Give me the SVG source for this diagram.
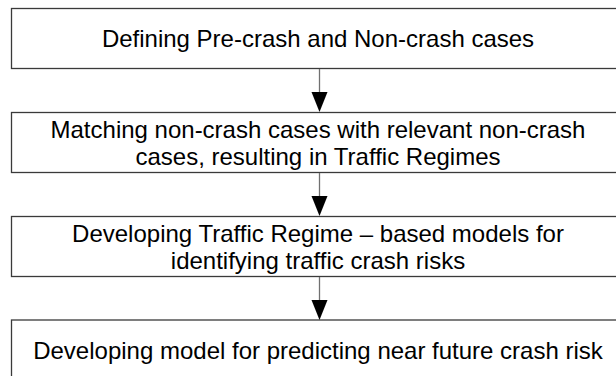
<svg xmlns="http://www.w3.org/2000/svg" width="616" height="376" viewBox="0 0 616 376">
  <defs>
    <style>
      .box { fill: #ffffff; stroke: #3a3a3a; stroke-width: 1.3; }
      .lbl { font-family: "Liberation Sans", Arial, sans-serif; font-size: 24px; fill: #000000; text-anchor: middle; }
      .conn { stroke: #707070; stroke-width: 1.3; fill: none; }
      .head { fill: #000000; stroke: none; }
    </style>
  </defs>
  <rect width="616" height="376" fill="#ffffff"/>
  <g id="node1">
    <rect class="box" x="11.5" y="8.5" width="620" height="60"/>
    <text class="lbl" x="318" y="46.5">Defining Pre-crash and Non-crash cases</text>
  </g>
  <g id="node2">
    <rect class="box" x="11.5" y="112.5" width="620" height="60"/>
    <text class="lbl" x="318" y="137.5">Matching non-crash cases with relevant non-crash</text>
    <text class="lbl" x="318" y="164.5">cases, resulting in Traffic Regimes</text>
  </g>
  <g id="node3">
    <rect class="box" x="11.5" y="216.5" width="620" height="60"/>
    <text class="lbl" x="318" y="241.5">Developing Traffic Regime – based models for</text>
    <text class="lbl" x="318" y="268.5">identifying traffic crash risks</text>
  </g>
  <g id="node4">
    <rect class="box" x="11.5" y="320" width="620" height="62"/>
    <text class="lbl" x="318" y="358.5">Developing model for predicting near future crash risk</text>
  </g>
  <g id="connectors">
    <line class="conn" x1="319.5" y1="69" x2="319.5" y2="94"/>
    <polygon class="head" points="311.5,92 327.5,92 319.5,112"/>
    <line class="conn" x1="319.5" y1="173" x2="319.5" y2="198"/>
    <polygon class="head" points="311.5,196 327.5,196 319.5,216"/>
    <line class="conn" x1="319.5" y1="277" x2="319.5" y2="302"/>
    <polygon class="head" points="311.5,300 327.5,300 319.5,320"/>
  </g>
</svg>
